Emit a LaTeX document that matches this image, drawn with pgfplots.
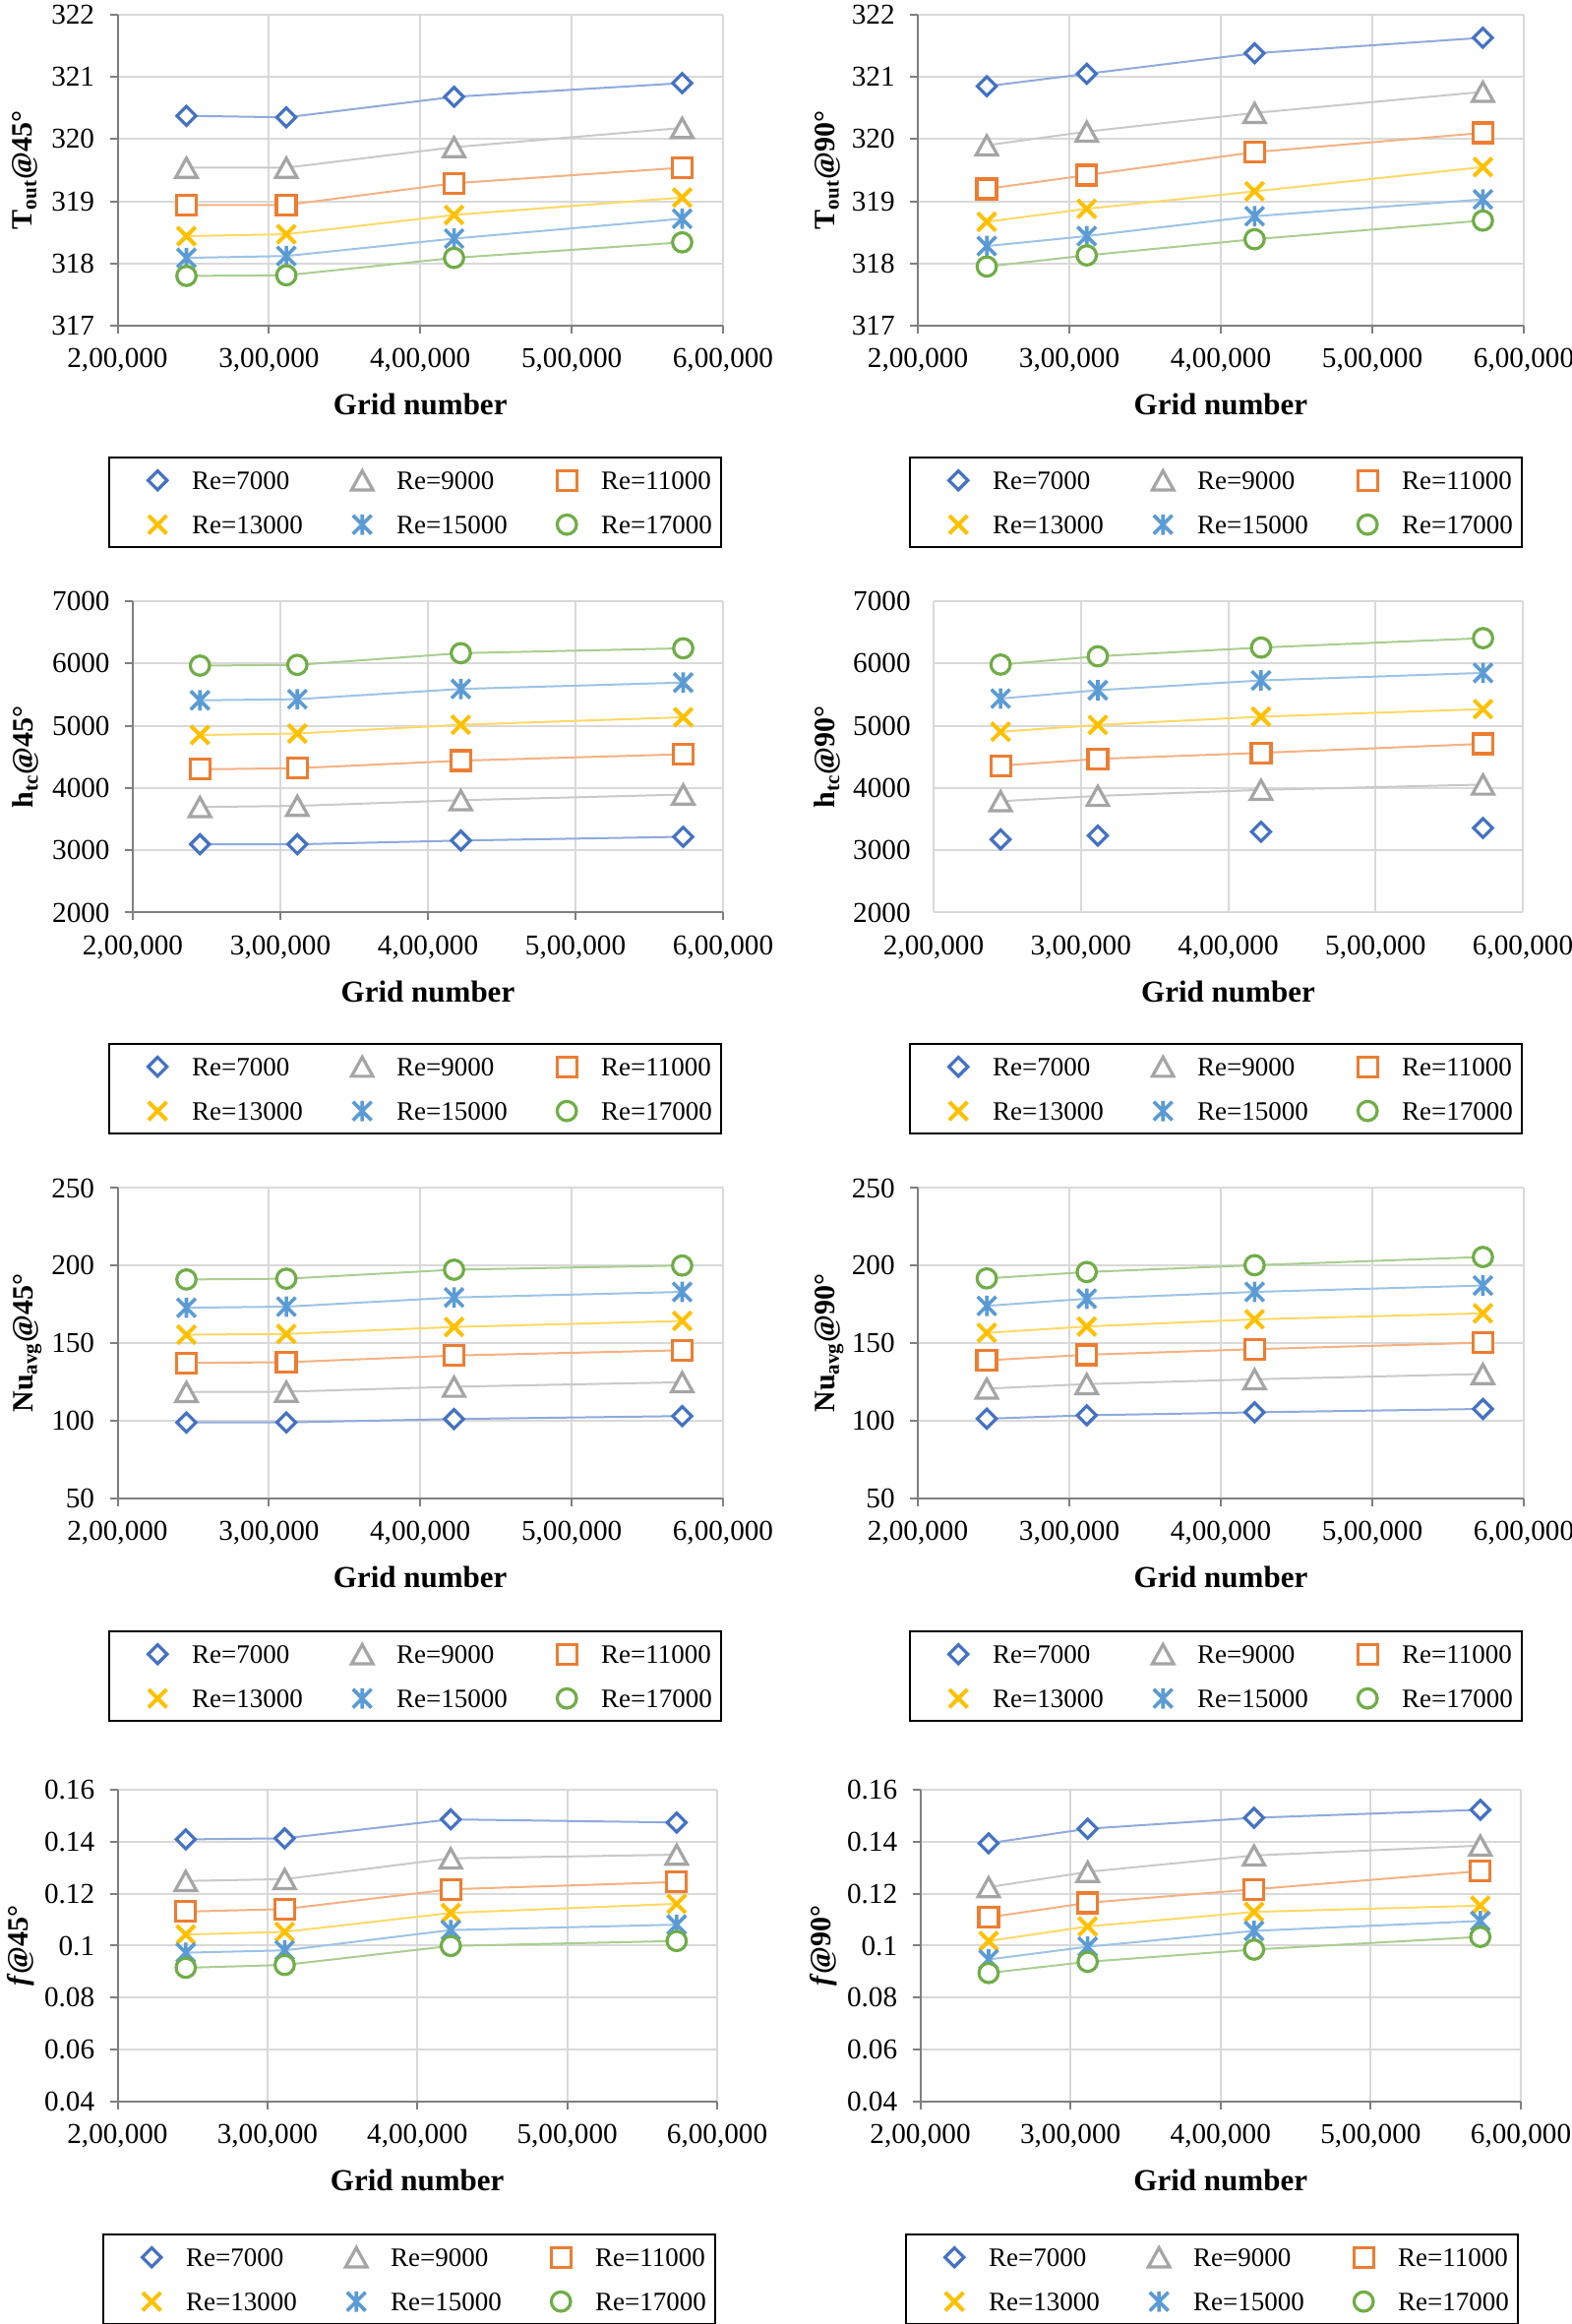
\documentclass[border=0pt]{standalone}
\usepackage{fontspec}
\setmainfont{Liberation Serif}
\usepackage{pgfplots}
\usepackage{pgfplotstable}
\pgfplotsset{compat=1.18}

\definecolor{cA}{HTML}{4472C4}
\definecolor{cB}{HTML}{A5A5A5}
\definecolor{cC}{HTML}{ED7D31}
\definecolor{cD}{HTML}{FFC000}
\definecolor{cE}{HTML}{5B9BD5}
\definecolor{cF}{HTML}{70AD47}
\definecolor{axgray}{HTML}{7F7F7F}
\definecolor{gridgray}{HTML}{D9D9D9}

\pgfdeclareplotmark{xdiamond}{%
  \pgfpathmoveto{\pgfqpoint{0pt}{\pgfplotmarksize}}%
  \pgfpathlineto{\pgfqpoint{\pgfplotmarksize}{0pt}}%
  \pgfpathlineto{\pgfqpoint{0pt}{-\pgfplotmarksize}}%
  \pgfpathlineto{\pgfqpoint{-\pgfplotmarksize}{0pt}}%
  \pgfpathclose\pgfusepathqfillstroke}
\pgfdeclareplotmark{xtriangle}{%
  \pgfpathmoveto{\pgfqpoint{0pt}{0.9\pgfplotmarksize}}%
  \pgfpathlineto{\pgfqpoint{\pgfplotmarksize}{-0.9\pgfplotmarksize}}%
  \pgfpathlineto{\pgfqpoint{-\pgfplotmarksize}{-0.9\pgfplotmarksize}}%
  \pgfpathclose\pgfusepathqfillstroke}
\pgfdeclareplotmark{xcross}{%
  \pgfpathmoveto{\pgfqpoint{-\pgfplotmarksize}{-\pgfplotmarksize}}%
  \pgfpathlineto{\pgfqpoint{\pgfplotmarksize}{\pgfplotmarksize}}%
  \pgfpathmoveto{\pgfqpoint{-\pgfplotmarksize}{\pgfplotmarksize}}%
  \pgfpathlineto{\pgfqpoint{\pgfplotmarksize}{-\pgfplotmarksize}}%
  \pgfusepathqstroke}
\pgfdeclareplotmark{xstar}{%
  \pgfpathmoveto{\pgfqpoint{-\pgfplotmarksize}{-\pgfplotmarksize}}%
  \pgfpathlineto{\pgfqpoint{\pgfplotmarksize}{\pgfplotmarksize}}%
  \pgfpathmoveto{\pgfqpoint{-\pgfplotmarksize}{\pgfplotmarksize}}%
  \pgfpathlineto{\pgfqpoint{\pgfplotmarksize}{-\pgfplotmarksize}}%
  \pgfpathmoveto{\pgfqpoint{0pt}{-1.1\pgfplotmarksize}}%
  \pgfpathlineto{\pgfqpoint{0pt}{1.1\pgfplotmarksize}}%
  \pgfusepathqstroke}

% Grid, Re=7000 (a), 9000 (b), 11000 (c), 13000 (d), 15000 (e), 17000 (f)
\pgfplotstableread{
g a b c d e f
245500 320.375 319.54 318.94 318.44 318.09 317.80
311500 320.35 319.54 318.94 318.47 318.12 317.81
422300 320.68 319.87 319.29 318.78 318.40 318.09
573000 320.90 320.18 319.54 319.06 318.72 318.34
}\dataTa
\pgfplotstableread{
g a b c d e f
245500 320.85 319.90 319.20 318.67 318.28 317.95
311500 321.05 320.12 319.42 318.88 318.44 318.13
422300 321.38 320.42 319.79 319.16 318.76 318.39
573000 321.63 320.76 320.10 319.55 319.03 318.69
}\dataTb
\pgfplotstableread{
g a b c d e f
245500 3096 3695 4300 4851 5408 5965
311500 3096 3713 4318 4875 5426 5977
422300 3156 3804 4439 5015 5590 6165
573000 3217 3895 4542 5136 5693 6243
}\dataHa
\pgfplotstableread{
g a b c d e f
245500 3176 3788 4358 4903 5436 5982
311500 3236 3873 4467 5012 5570 6115
422300 3297 3970 4564 5145 5727 6255
573000 3358 4055 4709 5267 5848 6406
}\dataHb
\pgfplotstableread{
g a b c d e f
245500 99.0 118.6 137.3 155.5 172.9 191.1
311500 99.0 118.8 137.8 156.0 173.6 191.6
422300 101.2 122.0 142.1 160.5 179.5 197.4
573000 103.1 124.9 145.5 164.4 183.1 200.1
}\dataNa
\pgfplotstableread{
g a b c d e f
245500 101.4 120.8 139.0 156.7 174.1 191.8
311500 103.6 123.7 142.6 160.8 178.7 195.9
422300 105.5 126.8 146.2 165.4 183.1 200.3
573000 107.7 130.2 150.4 169.3 187.2 205.6
}\dataNb
\pgfplotstableread{
g a b c d e f
245500 0.1409 0.1249 0.1131 0.1043 0.0973 0.0915
311500 0.1413 0.1256 0.1141 0.1053 0.0982 0.0926
422300 0.1486 0.1336 0.1217 0.1126 0.1060 0.0999
573000 0.1474 0.1350 0.1245 0.1161 0.1081 0.1018
}\dataFa
\pgfplotstableread{
g a b c d e f
245500 0.1394 0.1225 0.1109 0.1018 0.0947 0.0895
311500 0.1450 0.1284 0.1165 0.1074 0.0996 0.0938
422300 0.1492 0.1347 0.1217 0.1130 0.1057 0.0985
573000 0.1523 0.1385 0.1287 0.1154 0.1095 0.1034
}\dataFb

\pgfplotsset{
  s1/.style={draw=cA!60!white, line width=1pt, mark=xdiamond, mark size=4.8pt, mark options={draw=cA, fill=white, line width=1.6pt, solid}},
  s2/.style={draw=cB!60!white, line width=1pt, mark=xtriangle, mark size=5.4pt, mark options={draw=cB, fill=white, line width=1.6pt, solid}},
  s3/.style={draw=cC!60!white, line width=1pt, mark=square*, mark size=5pt, mark options={draw=cC, fill=white, line width=1.6pt, solid}},
  s4/.style={draw=cD!60!white, line width=1pt, mark=xcross, mark size=4.6pt, mark options={draw=cD, line width=2pt, solid}},
  s5/.style={draw=cE!60!white, line width=1pt, mark=xstar, mark size=4.7pt, mark options={draw=cE, line width=1.8pt, solid}},
  s6/.style={draw=cF!60!white, line width=1pt, mark=*, mark size=4.9pt, mark options={draw=cF, fill=white, line width=1.6pt, solid}},
  panel/.style={
    scale only axis,
    xmin=200000, xmax=600000,
    xtick={200000,300000,400000,500000,600000},
    xticklabels={{2,00,000},{3,00,000},{4,00,000},{5,00,000},{6,00,000}},
    scaled ticks=false,
    /pgf/number format/1000 sep={},
    /pgf/number format/assume math mode=true,
    axis lines*=left,
    axis line style={draw=axgray, line width=1pt, -},
    tick style={draw=axgray, line width=1pt},
    tick align=outside, major tick length=4pt,
    grid=major, grid style={draw=gridgray, line width=1pt},
    tick label style={font=\fontsize{14.6}{17}\selectfont, inner sep=0pt},
    xticklabel style={anchor=north, yshift=-7.5pt},
    yticklabel style={anchor=east, xshift=-7.5pt},
    xlabel={Grid number},
    xlabel style={font=\fontsize{15.5}{18}\selectfont\bfseries, at={(axis description cs:0.5,-0.253)}, anchor=center},
    ylabel style={font=\fontsize{15}{18}\selectfont\bfseries, anchor=center},
    legend columns=3,
    legend image code/.code={\draw[##1] plot[only marks] coordinates {(0pt,0pt)}; \path[draw=none,fill=none] (-8pt,-5pt) rectangle (8pt,5pt);},
    legend style={draw=black, line width=1.2pt, fill=white, inner xsep=16.5pt, inner ysep=0.25pt,
      font=\fontsize{13.5}{16}\selectfont, anchor=north west,
      /tikz/every odd column/.append style={column sep=9.5pt},
      /tikz/every even column/.append style={column sep=16.5pt},
      nodes={inner sep=0pt, text height=15.72pt, text depth=6.78pt, anchor=center}},
  },
}

\newcommand{\plotsix}[2][]{%
  \addplot[s1,#1] table[x=g,y=a]{#2};\addlegendentry{\makebox[62pt][l]{Re=7000}}
  \addplot[s2] table[x=g,y=b]{#2};\addlegendentry{\makebox[62pt][l]{Re=9000}}
  \addplot[s3] table[x=g,y=c]{#2};\addlegendentry{\makebox[44.5pt][l]{Re=11000}}
  \addplot[s4] table[x=g,y=d]{#2};\addlegendentry{\makebox[62pt][l]{Re=13000}}
  \addplot[s5] table[x=g,y=e]{#2};\addlegendentry{\makebox[62pt][l]{Re=15000}}
  \addplot[s6] table[x=g,y=f]{#2};\addlegendentry{\makebox[44.5pt][l]{Re=17000}}
}

\begin{document}
\begin{tikzpicture}
\useasboundingbox (0,0) rectangle (799pt,1181pt);

% Row 1
\begin{axis}[panel, at={(59.75pt,1015.5pt)}, anchor=south west, width=307.75pt, height=158pt,
  ymin=317, ymax=322, ytick={317,318,319,320,321,322}, yticklabels={317,318,319,320,321,322},
  ylabel={T\textsubscript{out}@45°}, ylabel style={at={(axis description cs:-0.153,0.5)}},
  legend style={at={(-0.0154,-0.4209)}}]
\plotsix{\dataTa}
\end{axis}
\begin{axis}[panel, at={(466.5pt,1015.5pt)}, anchor=south west, width=308pt, height=158pt,
  ymin=317, ymax=322, ytick={317,318,319,320,321,322}, yticklabels={317,318,319,320,321,322},
  ylabel={T\textsubscript{out}@90°}, ylabel style={at={(axis description cs:-0.149,0.5)}},
  legend style={at={(-0.0146,-0.4209)}}]
\plotsix{\dataTb}
\end{axis}

% Row 2
\begin{axis}[panel, at={(67.5pt,717.25pt)}, anchor=south west, width=300pt, height=158.25pt,
  ymin=2000, ymax=7000, ytick={2000,3000,4000,5000,6000,7000}, yticklabels={2000,3000,4000,5000,6000,7000},
  ylabel={h\textsubscript{tc}@45°}, ylabel style={at={(axis description cs:-0.181,0.5)}},
  legend style={at={(-0.0417,-0.4186)}}]
\plotsix{\dataHa}
\end{axis}
\begin{axis}[panel, at={(474.5pt,717.25pt)}, anchor=south west, width=299.5pt, height=158.25pt,
  axis line style={draw=none}, tick style={draw=none},
  ymin=2000, ymax=7000, ytick={2000,3000,4000,5000,6000,7000}, yticklabels={2000,3000,4000,5000,6000,7000},
  ylabel={h\textsubscript{tc}@90°}, ylabel style={at={(axis description cs:-0.180,0.5)}},
  legend style={at={(-0.0417,-0.4186)}}]
\plotsix[only marks]{\dataHb}
\end{axis}

% Row 3
\begin{axis}[panel, at={(59.75pt,419.5pt)}, anchor=south west, width=307.75pt, height=157.75pt,
  ymin=50, ymax=250, ytick={50,100,150,200,250}, yticklabels={50,100,150,200,250},
  ylabel={Nu\textsubscript{avg}@45°}, ylabel style={at={(axis description cs:-0.149,0.5)}},
  legend style={at={(-0.0154,-0.4247)}}]
\plotsix{\dataNa}
\end{axis}
\begin{axis}[panel, at={(466.5pt,419.5pt)}, anchor=south west, width=308pt, height=157.75pt,
  ymin=50, ymax=250, ytick={50,100,150,200,250}, yticklabels={50,100,150,200,250},
  ylabel={Nu\textsubscript{avg}@90°}, ylabel style={at={(axis description cs:-0.146,0.5)}},
  legend style={at={(-0.0146,-0.4247)}}]
\plotsix{\dataNb}
\end{axis}

% Row 4
\begin{axis}[panel, at={(59.75pt,113pt)}, anchor=south west, width=304.75pt, height=158.5pt,
  ymin=0.04, ymax=0.16, ytick={0.04,0.06,0.08,0.1,0.12,0.14,0.16}, yticklabels={0.04,0.06,0.08,0.1,0.12,0.14,0.16},
  ylabel={\textit{f}@45°}, ylabel style={at={(axis description cs:-0.162,0.5)}},
  legend style={at={(-0.0254,-0.4227)}}]
\plotsix{\dataFa}
\end{axis}
\begin{axis}[panel, at={(467.75pt,113pt)}, anchor=south west, width=305.25pt, height=158.5pt,
  ymin=0.04, ymax=0.16, ytick={0.04,0.06,0.08,0.1,0.12,0.14,0.16}, yticklabels={0.04,0.06,0.08,0.1,0.12,0.14,0.16},
  ylabel={\textit{f}@90°}, ylabel style={at={(axis description cs:-0.161,0.5)}},
  legend style={at={(-0.0254,-0.4227)}}]
\plotsix{\dataFb}
\end{axis}
\end{tikzpicture}
\end{document}
